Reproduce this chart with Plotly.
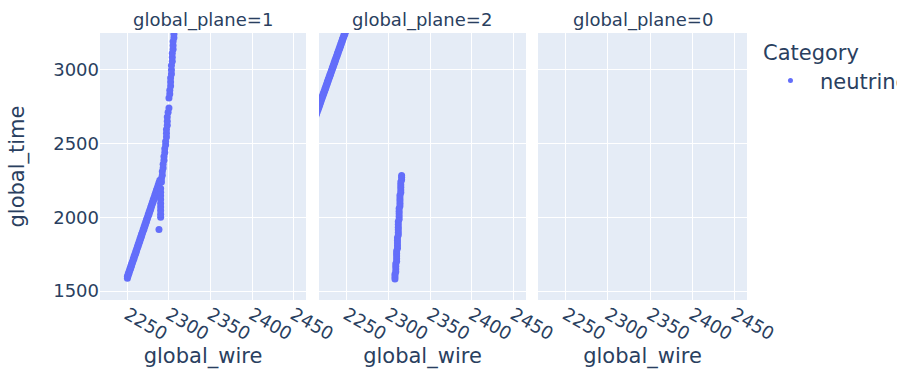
import plotly.graph_objects as go

# Facet order along the row and the legend category
planes = [1, 2, 0]
category = "neutrino"

# Hits on plane 1: long diagonal track, short side branch, steep upper track
p1_wire = [
    2250, 2250, 2251, 2251, 2252, 2252, 2253, 2253, 2254, 2254,
    2255, 2255, 2256, 2256, 2257, 2257, 2258, 2258, 2259, 2259,
    2260, 2260, 2261, 2261, 2262, 2262, 2263, 2263, 2264, 2264,
    2265, 2265, 2266, 2266, 2267, 2267, 2268, 2268, 2269, 2269,
    2270, 2270, 2271, 2271, 2272, 2272, 2273, 2273, 2274, 2274,
    2275, 2275, 2276, 2276, 2277, 2277, 2278, 2278, 2279, 2279,
    2280, 2280, 2281, 2281, 2282, 2282, 2283, 2283, 2284, 2284,
    2285, 2285, 2286, 2286, 2287, 2287, 2288, 2288, 2289, 2289,
    2288, 2290, 2290, 2290, 2290, 2290, 2290, 2290, 2290, 2290,
    2291, 2291, 2292, 2292, 2293, 2293, 2294, 2294, 2295, 2295,
    2296, 2296, 2297, 2297, 2297, 2298, 2298, 2298, 2299,
    2300, 2300, 2301, 2301, 2302, 2302, 2302, 2303, 2303,
    2303, 2304, 2304, 2304, 2305, 2305, 2305, 2306, 2306,
]
p1_time = [
    1588, 1601, 1606, 1618, 1623, 1634, 1641, 1650, 1657, 1669,
    1672, 1685, 1690, 1700, 1707, 1718, 1722, 1735, 1741, 1750,
    1756, 1769, 1773, 1784, 1790, 1801, 1806, 1818, 1823, 1834,
    1840, 1851, 1857, 1868, 1872, 1885, 1890, 1900, 1907, 1918,
    1922, 1935, 1940, 1951, 1957, 1968, 1972, 1985, 1990, 2000,
    2007, 2018, 2022, 2035, 2040, 2050, 2056, 2069, 2073, 2084,
    2090, 2101, 2106, 2118, 2123, 2134, 2140, 2151, 2157, 2168,
    2172, 2185, 2190, 2200, 2207, 2218, 2222, 2235, 2240, 2252,
    1918, 2001, 2022, 2046, 2070, 2094, 2121, 2146, 2170, 2196,
    2240, 2263, 2286, 2311, 2335, 2361, 2388, 2412, 2440, 2466,
    2490, 2515, 2545, 2571, 2596, 2625, 2652, 2680, 2712, 2742,
    2810, 2836, 2862, 2890, 2918, 2945, 2972, 3000, 3030,
    3058, 3085, 3112, 3140, 3166, 3192, 3218, 3242, 3268,
]

# Hits on plane 2: clipped diagonal track at upper left, near-vertical track
p2_wire = [
    2212, 2212, 2213, 2213, 2214, 2214, 2215, 2215, 2216, 2216,
    2217, 2217, 2218, 2218, 2219, 2219, 2220, 2220, 2221, 2221,
    2222, 2222, 2223, 2223, 2224, 2224, 2225, 2225, 2226, 2226,
    2227, 2227, 2228, 2228, 2229, 2229, 2230, 2230, 2231, 2231,
    2232, 2232, 2233, 2233, 2234, 2234, 2235, 2235, 2236, 2236,
    2237, 2237, 2238, 2238, 2239, 2239, 2240, 2240, 2241, 2241,
    2242, 2242, 2243, 2243, 2244, 2244, 2245, 2245, 2246, 2246,
    2247, 2247, 2248, 2248, 2249,
    2308, 2308, 2308, 2309, 2309, 2309, 2309, 2310, 2310, 2310,
    2310, 2310, 2311, 2311, 2311, 2311, 2311, 2312, 2312, 2312,
    2312, 2312, 2312, 2313, 2313, 2313, 2313, 2313, 2314, 2314,
    2314, 2314, 2314, 2315, 2315, 2315, 2315, 2315, 2316, 2316,
    2316,
]
p2_time = [
    2668, 2679, 2684, 2695, 2701, 2710, 2716, 2727, 2732, 2742,
    2749, 2758, 2764, 2775, 2780, 2791, 2797, 2806, 2812, 2823,
    2828, 2838, 2845, 2854, 2860, 2871, 2876, 2887, 2893, 2902,
    2908, 2919, 2924, 2934, 2941, 2950, 2956, 2967, 2972, 2983,
    2989, 2998, 3004, 3015, 3020, 3030, 3037, 3046, 3052, 3063,
    3068, 3079, 3085, 3094, 3100, 3111, 3116, 3126, 3133, 3142,
    3148, 3159, 3164, 3175, 3181, 3190, 3196, 3207, 3212, 3222,
    3229, 3238, 3244, 3255, 3260,
    1582, 1598, 1615, 1632, 1650, 1668, 1685, 1702, 1720, 1738,
    1755, 1772, 1790, 1808, 1826, 1844, 1862, 1880, 1898, 1916,
    1934, 1952, 1970, 1988, 2006, 2024, 2042, 2060, 2078, 2096,
    2114, 2132, 2150, 2168, 2186, 2204, 2222, 2240, 2256, 2272,
    2284,
]

# Plane 0 has no hits for this category
p0_wire = []
p0_time = []

hits = {1: (p1_wire, p1_time), 2: (p2_wire, p2_time), 0: (p0_wire, p0_time)}

wire_range = [2217, 2465]
time_range = [1440, 3250]
marker_color = "#636efa"
domains = [[0.0, 0.3184], [0.3385, 0.6584], [0.677, 1.0]]

fig = go.Figure()
annotations = []
for i, plane in enumerate(planes):
    n = "" if i == 0 else str(i + 1)
    w, t = hits[plane]
    fig.add_trace(go.Scatter(
        x=w, y=t, mode="markers", name=category, legendgroup=category,
        marker=dict(color=marker_color, size=7), showlegend=False,
        xaxis="x" + n, yaxis="y" + n,
    ))
    fig.update_layout(**{
        "xaxis" + n: dict(
            domain=domains[i], anchor="y" + n, range=wire_range, dtick=50,
            tickangle=30,
            title=dict(text="global_wire", font=dict(size=21), standoff=2),
            zeroline=False,
        ),
        "yaxis" + n: dict(
            anchor="x" + n, range=time_range, zeroline=False,
            showticklabels=(i == 0),
            matches=None if i == 0 else "y",
            title=dict(text="global_time" if i == 0 else "",
                       font=dict(size=21), standoff=22),
        ),
    })
    annotations.append(dict(
        text=f"global_plane={plane}", x=sum(domains[i]) / 2, y=1.0,
        xref="paper", yref="paper", xanchor="center", yanchor="bottom",
        showarrow=False, font=dict(size=18),
    ))

# Legend entry with its own smaller symbol
fig.add_trace(go.Scatter(
    x=[None], y=[None], mode="markers", name=category, legendgroup=category,
    marker=dict(color=marker_color, size=5), showlegend=True,
))

fig.update_layout(
    width=897, height=376,
    margin=dict(l=100, r=150, t=33, b=76, autoexpand=False),
    font=dict(family="DejaVu Sans, Verdana, sans-serif", size=18, color="#2a3f5f"),
    annotations=annotations,
    legend=dict(
        title=dict(text="Category", font=dict(size=21)),
        font=dict(size=21),
        x=1.0216, xanchor="left", y=1.0, yanchor="top",
        itemwidth=49, tracegroupgap=0,
    ),
)

fig.write_html("out.html")
